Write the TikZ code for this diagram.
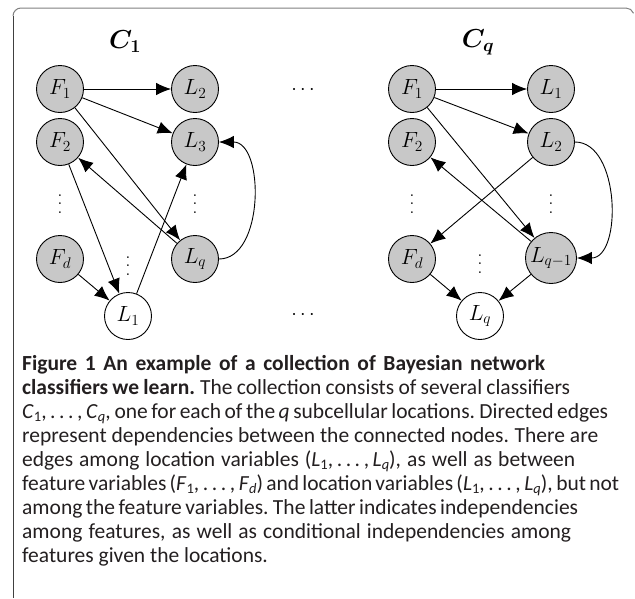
\RequirePackage{fix-cm}
\documentclass[tikz,border=0pt]{standalone}
\usepackage{fontspec}
\setsansfont{Carlito}
\usetikzlibrary{arrows.meta}
\definecolor{nodegray}{HTML}{C8C8C8}
\definecolor{framegray}{HTML}{808080}
\definecolor{frameleft}{HTML}{404040}
\definecolor{captext}{HTML}{231F20}
\newcommand\capsub[1]{\raisebox{-0.3ex}{\fontsize{14.5}{14.5}\selectfont #1}}
\newcommand\capdots{,\,.\,.\,.\,,\,}
% one caption line, stretched or squeezed to a given width by its word spaces
\newcommand\capfit[2]{\hbox to #1pt{\spaceskip=0.24em plus 0.8em minus 0.1em
  \xspaceskip=0.28em plus 0.8em minus 0.1em\relax #2}}
% three stacked dots, spaced wider than \vdots
\newcommand\tallvdots{\vbox{\offinterlineskip
  \hbox to 3pt{\hss.\hss}\vskip 6.5pt\hbox to 3pt{\hss.\hss}\vskip 6.5pt\hbox to 3pt{\hss.\hss}}}
\begin{document}
\begin{tikzpicture}[x=1pt,y=-1pt,
  var/.style={circle,draw=black,line width=0.9pt,minimum size=47pt,inner sep=0pt,
    font=\fontsize{22}{26}\selectfont},
  obs/.style={var,fill=nodegray},
  hid/.style={var,fill=white},
  edge/.style={line width=0.9pt,-{Latex[length=15pt,width=12.5pt]}},
  title/.style={font=\fontsize{26}{30}\selectfont\boldmath},
  dotsl/.style={inner sep=0pt,font=\fontsize{21}{10}\selectfont},
  hdots/.style={anchor=base,inner sep=0pt,font=\fontsize{20}{24}\selectfont},
  capline/.style={anchor=base west,inner sep=0pt,text=captext,
    font=\sffamily\fontsize{21.5}{24}\selectfont},
]
\useasboundingbox (0,0) rectangle (635,598);

% frame
\draw[framegray,line width=1pt] (13,16) arc[start angle=180,end angle=270,radius=8]
  -- (626,8) arc[start angle=270,end angle=340,radius=8];
\draw[frameleft,line width=1pt] (13,16) -- (13,598);

% ---------- classifier C_1 ----------
\node[title] (t1) at (125,42) {$C_1$};
\node[obs] (aF1) at (60,89) {$F_1$};
\node[obs] (aF2) at (60,142) {$F_2$};
\node[obs] (aFd) at (60,259) {$F_d$};
\node[obs] (aL2) at (195,89) {$L_2$};
\node[obs] (aL3) at (195,142) {$L_3$};
\node[obs] (aLq) at (195,259) {$L_q$};
\node[hid] (aL1) at (128,316) {$L_1$};
\node[dotsl] (av1) at (60,204) {\tallvdots};
\node[dotsl] (av2) at (195,204) {\tallvdots};
\node[dotsl] (av3) at (128,266) {\tallvdots};

\draw[edge] (aF1) -- (aL2);
\draw[edge] (aF1) -- (aL3);
\draw[edge] (aF1) -- (aLq);
\draw[edge] (aLq) -- (aF2);
\draw[edge] (aF2) -- (aL1);
\draw[edge] (aFd) -- (aL1);
\draw[edge] (aL1) -- (aL3);
\draw[edge] (aLq.east) to[out=0,in=0,looseness=1] (aL3.east);

% ---------- between ----------
\node[hdots] (hd1) at (303,94) {$\cdots$};
\node[hdots] (hd2) at (303,319) {$\cdots$};

% ---------- classifier C_q ----------
\node[title] (tq) at (478,42) {$C_q$};
\node[obs] (bF1) at (412,89) {$F_1$};
\node[obs] (bF2) at (412,142) {$F_2$};
\node[obs] (bFd) at (412,259) {$F_d$};
\node[obs] (bL1) at (551,89) {$L_1$};
\node[obs] (bL2) at (551,142) {$L_2$};
\node[obs,minimum size=51pt] (bLp) at (551,258) {$L_{q-1}$};
\node[hid] (bLq) at (480,316) {$L_q$};
\node[dotsl] (bv1) at (412,204) {\tallvdots};
\node[dotsl] (bv2) at (551,204) {\tallvdots};
\node[dotsl] (bv3) at (480,264) {\tallvdots};

\draw[edge] (bF1) -- (bL1);
\draw[edge] (bF1) -- (bL2);
\draw[edge] (bF1) -- (bLp);
\draw[edge] (bLp) -- (bF2);
\draw[edge] (bL2) -- (bFd);
\draw[edge] (bFd) -- (bLq);
\draw[edge] (bLp) -- (bLq);
\draw[edge] (bL2.east) to[out=0,in=0,looseness=1] (bLp.east);

% ---------- caption ----------
\node[capline] (c1) at (22,370) {\capfit{523}{\textbf{Figure 1 An example of a collection of Bayesian network}}};
\node[capline] (c2) at (22,394) {\capfit{548}{\textbf{classifiers we learn.} The collection consists of several classifiers}};
\node[capline] (c3) at (22,418) {\capfit{586}{\textit{C}\capsub{1}\capdots\textit{C}\capsub{\textit{q}}, one for each of the \textit{q} subcellular locations. Directed edges}};
\node[capline] (c4) at (22,442) {\capfit{576}{represent dependencies between the connected nodes. There are}};
\node[capline] (c5) at (22,466) {\capfit{553}{edges among location variables (\textit{L}\capsub{1}\capdots\textit{L}\capsub{\textit{q}}), as well as between}};
\node[capline] (c6) at (22,490) {\capfit{597}{feature variables (\textit{F}\capsub{1}\capdots\textit{F}\capsub{\textit{d}}) and location variables (\textit{L}\capsub{1}\capdots\textit{L}\capsub{\textit{q}}), but not}};
\node[capline] (c7) at (22,514) {\capfit{556}{among the feature variables. The latter indicates independencies}};
\node[capline] (c8) at (22,538) {\capfit{549}{among features, as well as conditional independencies among}};
\node[capline] (c9) at (22,562) {features given the locations.};
\end{tikzpicture}
\end{document}
